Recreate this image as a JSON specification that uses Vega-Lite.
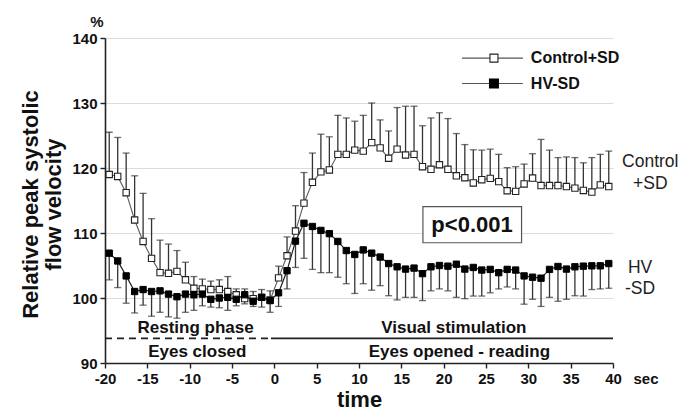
{
  "$schema": "https://vega.github.io/schema/vega-lite/v6.json",
  "width": 508,
  "height": 325,
  "autosize": {"type": "none"},
  "padding": {"left": 105, "top": 38, "right": 67, "bottom": 47},
  "background": "white",
  "config": {
    "view": {"stroke": null},
    "font": "Liberation Sans",
    "axis": {
      "domainColor": "#222",
      "domainWidth": 1.6,
      "tickColor": "#222",
      "tickWidth": 1.4,
      "tickSize": 5,
      "labelPadding": 3,
      "labelFont": "Liberation Sans",
      "labelFontWeight": "bold",
      "labelFontSize": 15,
      "labelColor": "#111",
      "titleFont": "Liberation Sans",
      "titleFontWeight": "bold",
      "titleColor": "#111",
      "gridColor": "#dcdcdc",
      "gridWidth": 1
    }
  },
  "datasets": {
    "one": [{"k": 1}]
  },
  "data": {
    "values": [
      {"t": -19.5, "series": "Control", "mean": 119.0, "err": 125.5},
      {"t": -18.5, "series": "Control", "mean": 118.7, "err": 124.7},
      {"t": -17.5, "series": "Control", "mean": 116.2, "err": 122.3},
      {"t": -16.5, "series": "Control", "mean": 112.0, "err": 118.8},
      {"t": -15.5, "series": "Control", "mean": 108.7, "err": 116.1},
      {"t": -14.5, "series": "Control", "mean": 106.1, "err": 112.2},
      {"t": -13.5, "series": "Control", "mean": 103.9, "err": 108.9},
      {"t": -12.5, "series": "Control", "mean": 103.8, "err": 108.3},
      {"t": -11.5, "series": "Control", "mean": 104.1, "err": 107.3},
      {"t": -10.5, "series": "Control", "mean": 102.8, "err": 105.5},
      {"t": -9.5, "series": "Control", "mean": 101.5, "err": 103.3},
      {"t": -8.5, "series": "Control", "mean": 101.4, "err": 102.9},
      {"t": -7.5, "series": "Control", "mean": 101.3, "err": 102.6},
      {"t": -6.5, "series": "Control", "mean": 101.3, "err": 102.8},
      {"t": -5.5, "series": "Control", "mean": 101.0, "err": 103.3},
      {"t": -4.5, "series": "Control", "mean": 100.5, "err": 101.4},
      {"t": -3.5, "series": "Control", "mean": 99.9, "err": 101.4},
      {"t": -2.5, "series": "Control", "mean": 99.9, "err": 101.0},
      {"t": -1.5, "series": "Control", "mean": 100.1, "err": 101.3},
      {"t": -0.5, "series": "Control", "mean": 99.7, "err": 101.1},
      {"t": 0.5, "series": "Control", "mean": 103.1, "err": 104.9},
      {"t": 1.5, "series": "Control", "mean": 106.5, "err": 109.4},
      {"t": 2.5, "series": "Control", "mean": 110.3, "err": 114.2},
      {"t": 3.5, "series": "Control", "mean": 114.6, "err": 119.3},
      {"t": 4.5, "series": "Control", "mean": 117.8, "err": 122.3},
      {"t": 5.5, "series": "Control", "mean": 119.4, "err": 125.2},
      {"t": 6.5, "series": "Control", "mean": 119.7, "err": 124.8},
      {"t": 7.5, "series": "Control", "mean": 122.1, "err": 128.1},
      {"t": 8.5, "series": "Control", "mean": 122.1, "err": 127.7},
      {"t": 9.5, "series": "Control", "mean": 122.75, "err": 127.2},
      {"t": 10.5, "series": "Control", "mean": 122.6, "err": 128.1},
      {"t": 11.5, "series": "Control", "mean": 123.9, "err": 130.0},
      {"t": 12.5, "series": "Control", "mean": 123.1, "err": 127.4},
      {"t": 13.5, "series": "Control", "mean": 121.5, "err": 125.7},
      {"t": 14.5, "series": "Control", "mean": 122.9, "err": 129.3},
      {"t": 15.5, "series": "Control", "mean": 122.0, "err": 129.5},
      {"t": 16.5, "series": "Control", "mean": 122.1, "err": 129.5},
      {"t": 17.5, "series": "Control", "mean": 120.2, "err": 126.5},
      {"t": 18.5, "series": "Control", "mean": 119.8, "err": 127.7},
      {"t": 19.5, "series": "Control", "mean": 120.5, "err": 128.5},
      {"t": 20.5, "series": "Control", "mean": 119.8, "err": 127.6},
      {"t": 21.5, "series": "Control", "mean": 118.8, "err": 125.3},
      {"t": 22.5, "series": "Control", "mean": 118.5, "err": 123.6},
      {"t": 23.5, "series": "Control", "mean": 117.7, "err": 122.8},
      {"t": 24.5, "series": "Control", "mean": 118.2, "err": 122.75},
      {"t": 25.5, "series": "Control", "mean": 118.4, "err": 122.9},
      {"t": 26.5, "series": "Control", "mean": 117.9, "err": 122.1},
      {"t": 27.5, "series": "Control", "mean": 116.5, "err": 120.05},
      {"t": 28.5, "series": "Control", "mean": 116.4, "err": 120.2},
      {"t": 29.5, "series": "Control", "mean": 117.55, "err": 120.6},
      {"t": 30.5, "series": "Control", "mean": 118.45, "err": 122.2},
      {"t": 31.5, "series": "Control", "mean": 117.3, "err": 124.4},
      {"t": 32.5, "series": "Control", "mean": 117.3, "err": 122.75},
      {"t": 33.5, "series": "Control", "mean": 117.3, "err": 121.6},
      {"t": 34.5, "series": "Control", "mean": 117.15, "err": 121.7},
      {"t": 35.5, "series": "Control", "mean": 116.9, "err": 121.6},
      {"t": 36.5, "series": "Control", "mean": 116.55, "err": 120.8},
      {"t": 37.5, "series": "Control", "mean": 116.3, "err": 121.6},
      {"t": 38.5, "series": "Control", "mean": 117.4, "err": 122.1},
      {"t": 39.5, "series": "Control", "mean": 117.15, "err": 122.6},
      {"t": -19.5, "series": "HV", "mean": 106.9, "err": 102.8},
      {"t": -18.5, "series": "HV", "mean": 105.7, "err": 101.6},
      {"t": -17.5, "series": "HV", "mean": 103.4, "err": 99.2},
      {"t": -16.5, "series": "HV", "mean": 101.0, "err": 97.7},
      {"t": -15.5, "series": "HV", "mean": 101.3, "err": 98.9},
      {"t": -14.5, "series": "HV", "mean": 101.0, "err": 97.2},
      {"t": -13.5, "series": "HV", "mean": 101.1, "err": 97.8},
      {"t": -12.5, "series": "HV", "mean": 100.6, "err": 97.1},
      {"t": -11.5, "series": "HV", "mean": 100.2, "err": 96.9},
      {"t": -10.5, "series": "HV", "mean": 100.6, "err": 97.8},
      {"t": -9.5, "series": "HV", "mean": 100.5, "err": 98.1},
      {"t": -8.5, "series": "HV", "mean": 100.6, "err": 98.8},
      {"t": -7.5, "series": "HV", "mean": 99.8, "err": 98.6},
      {"t": -6.5, "series": "HV", "mean": 100.0, "err": 98.5},
      {"t": -5.5, "series": "HV", "mean": 100.1, "err": 98.1},
      {"t": -4.5, "series": "HV", "mean": 99.8, "err": 98.8},
      {"t": -3.5, "series": "HV", "mean": 100.5, "err": 99.1},
      {"t": -2.5, "series": "HV", "mean": 99.5, "err": 98.7},
      {"t": -1.5, "series": "HV", "mean": 100.1, "err": 98.6},
      {"t": -0.5, "series": "HV", "mean": 99.6, "err": 97.8},
      {"t": 0.5, "series": "HV", "mean": 100.8, "err": 98.7},
      {"t": 1.5, "series": "HV", "mean": 104.2, "err": 101.4},
      {"t": 2.5, "series": "HV", "mean": 108.75, "err": 104.7},
      {"t": 3.5, "series": "HV", "mean": 111.5, "err": 106.1},
      {"t": 4.5, "series": "HV", "mean": 111.0, "err": 104.4},
      {"t": 5.5, "series": "HV", "mean": 110.4, "err": 103.9},
      {"t": 6.5, "series": "HV", "mean": 109.9, "err": 103.9},
      {"t": 7.5, "series": "HV", "mean": 108.7, "err": 103.2},
      {"t": 8.5, "series": "HV", "mean": 107.3, "err": 102.2},
      {"t": 9.5, "series": "HV", "mean": 106.7, "err": 100.7},
      {"t": 10.5, "series": "HV", "mean": 107.4, "err": 102.2},
      {"t": 11.5, "series": "HV", "mean": 106.9, "err": 101.2},
      {"t": 12.5, "series": "HV", "mean": 106.3, "err": 101.9},
      {"t": 13.5, "series": "HV", "mean": 105.3, "err": 100.35},
      {"t": 14.5, "series": "HV", "mean": 104.8, "err": 99.7},
      {"t": 15.5, "series": "HV", "mean": 104.45, "err": 100.1},
      {"t": 16.5, "series": "HV", "mean": 104.6, "err": 100.1},
      {"t": 17.5, "series": "HV", "mean": 103.75, "err": 99.6},
      {"t": 18.5, "series": "HV", "mean": 104.8, "err": 101.1},
      {"t": 19.5, "series": "HV", "mean": 105.0, "err": 101.4},
      {"t": 20.5, "series": "HV", "mean": 104.9, "err": 101.1},
      {"t": 21.5, "series": "HV", "mean": 105.2, "err": 100.1},
      {"t": 22.5, "series": "HV", "mean": 104.45, "err": 99.9},
      {"t": 23.5, "series": "HV", "mean": 104.7, "err": 100.3},
      {"t": 24.5, "series": "HV", "mean": 104.3, "err": 100.3},
      {"t": 25.5, "series": "HV", "mean": 104.4, "err": 100.8},
      {"t": 26.5, "series": "HV", "mean": 103.9, "err": 101.4},
      {"t": 27.5, "series": "HV", "mean": 104.4, "err": 101.7},
      {"t": 28.5, "series": "HV", "mean": 104.3, "err": 101.4},
      {"t": 29.5, "series": "HV", "mean": 103.4, "err": 99.05},
      {"t": 30.5, "series": "HV", "mean": 103.2, "err": 99.8},
      {"t": 31.5, "series": "HV", "mean": 103.05, "err": 98.7},
      {"t": 32.5, "series": "HV", "mean": 104.4, "err": 100.1},
      {"t": 33.5, "series": "HV", "mean": 104.85, "err": 99.5},
      {"t": 34.5, "series": "HV", "mean": 104.45, "err": 99.8},
      {"t": 35.5, "series": "HV", "mean": 104.8, "err": 100.35},
      {"t": 36.5, "series": "HV", "mean": 104.9, "err": 100.3},
      {"t": 37.5, "series": "HV", "mean": 104.95, "err": 101.3},
      {"t": 38.5, "series": "HV", "mean": 104.95, "err": 101.4},
      {"t": 39.5, "series": "HV", "mean": 105.3, "err": 101.5}
    ]
  },
  "layer": [
    {
      "mark": {"type": "rule", "color": "#333", "strokeWidth": 1.3},
      "encoding": {
        "x": {
          "field": "t", "type": "quantitative",
          "scale": {"domain": [-20, 40], "nice": false, "zero": false},
          "axis": {"values": [-20, -15, -10, -5, 0, 5, 10, 15, 20, 25, 30, 35, 40], "labelExpr": "toString(datum.value)", "grid": false, "title": "time", "titleFontSize": 22, "titleBaseline": "alphabetic", "titleY": 43, "labelFlush": false}
        },
        "y": {
          "field": "mean", "type": "quantitative",
          "scale": {"domain": [90, 140], "nice": false, "zero": false},
          "axis": {"values": [90, 100, 110, 120, 130, 140], "grid": true, "title": ["Relative peak systolic", "flow velocity"], "titleFontSize": 22, "titleLineHeight": 23, "titleAngle": -90, "titleBaseline": "middle", "titleAlign": "center", "titleX": -75, "titleY": 166, "labelFlush": false}
        },
        "y2": {"field": "err"}
      }
    },
    {
      "mark": {"type": "tick", "color": "#333", "orient": "horizontal", "size": 7, "thickness": 1.3},
      "encoding": {"x": {"field": "t", "type": "quantitative"}, "y": {"field": "err", "type": "quantitative"}}
    },
    {
      "transform": [{"filter": "datum.series === 'Control'"}],
      "mark": {"type": "line", "color": "#5a5a5a", "strokeWidth": 1.1},
      "encoding": {"x": {"field": "t", "type": "quantitative"}, "y": {"field": "mean", "type": "quantitative"}}
    },
    {
      "transform": [{"filter": "datum.series === 'HV'"}],
      "mark": {"type": "line", "color": "#222", "strokeWidth": 1.2},
      "encoding": {"x": {"field": "t", "type": "quantitative"}, "y": {"field": "mean", "type": "quantitative"}}
    },
    {
      "transform": [{"filter": "datum.series === 'Control'"}],
      "mark": {"type": "point", "shape": "square", "filled": true, "fill": "white", "stroke": "#222", "strokeWidth": 1.1, "size": 40, "opacity": 1},
      "encoding": {"x": {"field": "t", "type": "quantitative"}, "y": {"field": "mean", "type": "quantitative"}}
    },
    {
      "transform": [{"filter": "datum.series === 'HV'"}],
      "mark": {"type": "point", "shape": "square", "filled": true, "fill": "#000", "stroke": "#000", "strokeWidth": 1, "size": 40, "opacity": 1},
      "encoding": {"x": {"field": "t", "type": "quantitative"}, "y": {"field": "mean", "type": "quantitative"}}
    },
    {
      "data": {"name": "one"},
      "mark": {"type": "rule", "color": "#222", "strokeWidth": 1.7, "strokeDash": [7, 5]},
      "encoding": {"x": {"datum": -20}, "x2": {"datum": -0.7}, "y": {"datum": 93.8}}
    },
    {
      "data": {"name": "one"},
      "mark": {"type": "rule", "color": "#222", "strokeWidth": 1.7},
      "encoding": {"x": {"datum": -0.4}, "x2": {"datum": 40}, "y": {"datum": 93.8}}
    },
    {
      "data": {"name": "one"},
      "mark": {"type": "text", "font": "Liberation Sans", "fontWeight": "bold", "fontSize": 17, "align": "center", "baseline": "middle", "color": "#111"},
      "encoding": {"x": {"datum": -9.3}, "y": {"datum": 95.45}, "text": {"value": "Resting phase"}}
    },
    {
      "data": {"name": "one"},
      "mark": {"type": "text", "font": "Liberation Sans", "fontWeight": "bold", "fontSize": 17, "align": "center", "baseline": "middle", "color": "#111"},
      "encoding": {"x": {"datum": -9.1}, "y": {"datum": 91.75}, "text": {"value": "Eyes closed"}}
    },
    {
      "data": {"name": "one"},
      "mark": {"type": "text", "font": "Liberation Sans", "fontWeight": "bold", "fontSize": 17, "align": "center", "baseline": "middle", "color": "#111"},
      "encoding": {"x": {"datum": 21.2}, "y": {"datum": 95.4}, "text": {"value": "Visual stimulation"}}
    },
    {
      "data": {"name": "one"},
      "mark": {"type": "text", "font": "Liberation Sans", "fontWeight": "bold", "fontSize": 17, "align": "center", "baseline": "middle", "color": "#111"},
      "encoding": {"x": {"datum": 21.85}, "y": {"datum": 91.65}, "text": {"value": "Eyes opened - reading"}}
    },
    {
      "data": {"name": "one"},
      "mark": {"type": "rect", "fill": "white", "stroke": "#555", "strokeWidth": 1.2},
      "encoding": {"x": {"datum": 17.55}, "x2": {"datum": 29.2}, "y": {"datum": 114.05}, "y2": {"datum": 108.5}}
    },
    {
      "data": {"name": "one"},
      "mark": {"type": "text", "font": "Liberation Sans", "fontWeight": "bold", "fontSize": 22, "align": "center", "baseline": "middle", "color": "#111"},
      "encoding": {"x": {"datum": 23.35}, "y": {"datum": 111.25}, "text": {"value": "p<0.001"}}
    },
    {
      "data": {"name": "one"},
      "mark": {"type": "rule", "color": "#555", "strokeWidth": 1.1},
      "encoding": {"x": {"datum": 22.16}, "x2": {"datum": 29.36}, "y": {"datum": 136.9}}
    },
    {
      "data": {"name": "one"},
      "mark": {"type": "rule", "color": "#555", "strokeWidth": 1.1},
      "encoding": {"x": {"datum": 22.16}, "x2": {"datum": 29.36}, "y": {"datum": 133.0}}
    },
    {
      "data": {"name": "one"},
      "mark": {"type": "point", "shape": "square", "filled": true, "fill": "white", "stroke": "#222", "strokeWidth": 1.1, "size": 64, "opacity": 1},
      "encoding": {"x": {"datum": 25.94}, "y": {"datum": 136.9}}
    },
    {
      "data": {"name": "one"},
      "mark": {"type": "point", "shape": "square", "filled": true, "fill": "#000", "stroke": "#000", "size": 64, "opacity": 1},
      "encoding": {"x": {"datum": 25.94}, "y": {"datum": 133.0}}
    },
    {
      "data": {"name": "one"},
      "mark": {"type": "text", "font": "Liberation Sans", "fontWeight": "bold", "fontSize": 16, "align": "left", "baseline": "middle", "color": "#111"},
      "encoding": {"x": {"datum": 30.3}, "y": {"datum": 136.9}, "text": {"value": "Control+SD"}}
    },
    {
      "data": {"name": "one"},
      "mark": {"type": "text", "font": "Liberation Sans", "fontWeight": "bold", "fontSize": 16, "align": "left", "baseline": "middle", "color": "#111"},
      "encoding": {"x": {"datum": 30.3}, "y": {"datum": 133.0}, "text": {"value": "HV-SD"}}
    },
    {
      "data": {"name": "one"},
      "mark": {"type": "text", "font": "Liberation Sans", "fontSize": 17.5, "align": "center", "baseline": "middle", "color": "#222", "lineHeight": 22},
      "encoding": {"x": {"datum": 44.4}, "y": {"datum": 121.0}, "text": {"value": ["Control", "+SD"]}}
    },
    {
      "data": {"name": "one"},
      "mark": {"type": "text", "font": "Liberation Sans", "fontSize": 17.5, "align": "center", "baseline": "middle", "color": "#222", "lineHeight": 21},
      "encoding": {"x": {"datum": 43.2}, "y": {"datum": 104.6}, "text": {"value": ["HV", "-SD"]}}
    },
    {
      "data": {"name": "one"},
      "mark": {"type": "text", "font": "Liberation Sans", "fontWeight": "bold", "fontSize": 15, "align": "center", "baseline": "middle", "color": "#111"},
      "encoding": {"x": {"datum": 43.9}, "y": {"datum": 87.6}, "text": {"value": "sec"}}
    },
    {
      "data": {"name": "one"},
      "mark": {"type": "text", "font": "Liberation Sans", "fontWeight": "bold", "fontSize": 15, "align": "center", "baseline": "middle", "color": "#111"},
      "encoding": {"x": {"datum": -20.95}, "y": {"datum": 142.4}, "text": {"value": "%"}}
    }
  ]
}
